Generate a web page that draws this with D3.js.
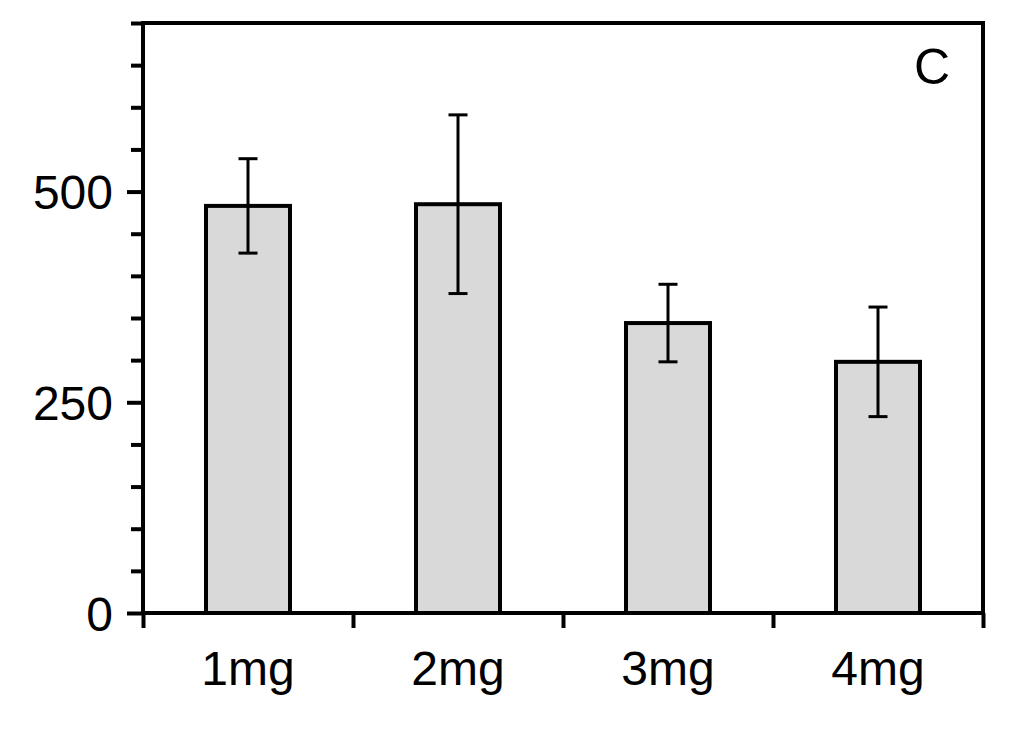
<!DOCTYPE html>
<html>
<head>
<meta charset="utf-8">
<script src="https://cdn.jsdelivr.net/npm/d3@7"></script>
<style>
  body { margin: 0; background: #fff; }
  svg { display: block; }
  .axis text { font-family: "Liberation Sans", Arial, sans-serif; font-size: 48px; fill: #000; }
</style>
</head>
<body>
<div id="chart"></div>
<script>
var categories = ['1mg', '2mg', '3mg', '4mg'];
var means = [483, 485, 344, 298];
var errUp = [56, 106, 46, 65];
var errDown = [56, 106, 46, 65];
var majorTicks = [0, 250, 500];
var minorTicks = [50, 100, 150, 200, 300, 350, 400, 450, 550, 600, 650, 700];

var width = 1023, height = 732;
var margin = {left: 143, right: 40, top: 23, bottom: 119};
var w = width - margin.left - margin.right;
var h = height - margin.top - margin.bottom;

var svg = d3.select("#chart").append("svg").attr("width", width).attr("height", height);
var g = svg.append("g").attr("transform", "translate(" + margin.left + "," + margin.top + ")");

var x = d3.scaleBand().domain(categories).range([0, w]).paddingInner(0).paddingOuter(0);
var y = d3.scaleLinear().domain([0, 700]).range([h, 0]);
var barW = x.bandwidth() * 0.4;

// bars
g.selectAll("rect.bar")
    .data(means)
    .enter().append("rect")
    .attr("class", "bar")
    .attr("x", function (d, i) { return x(categories[i]) + (x.bandwidth() - barW) / 2; })
    .attr("y", function (d) { return y(d); })
    .attr("width", barW)
    .attr("height", function (d) { return h - y(d); })
    .attr("fill", "#d9d9d9")
    .attr("stroke", "#000")
    .attr("stroke-width", 4);

// error bars
var eb = g.selectAll("g.err").data(means).enter().append("g").attr("class", "err")
    .attr("stroke", "#000").attr("stroke-width", 3);
eb.append("line")
    .attr("x1", function (d, i) { return x(categories[i]) + x.bandwidth() / 2; })
    .attr("x2", function (d, i) { return x(categories[i]) + x.bandwidth() / 2; })
    .attr("y1", function (d, i) { return y(d + errUp[i]); })
    .attr("y2", function (d, i) { return y(d - errDown[i]); });
eb.append("line")
    .attr("x1", function (d, i) { return x(categories[i]) + x.bandwidth() / 2 - 9.5; })
    .attr("x2", function (d, i) { return x(categories[i]) + x.bandwidth() / 2 + 9.5; })
    .attr("y1", function (d, i) { return y(d + errUp[i]); })
    .attr("y2", function (d, i) { return y(d + errUp[i]); });
eb.append("line")
    .attr("x1", function (d, i) { return x(categories[i]) + x.bandwidth() / 2 - 9.5; })
    .attr("x2", function (d, i) { return x(categories[i]) + x.bandwidth() / 2 + 9.5; })
    .attr("y1", function (d, i) { return y(d - errDown[i]); })
    .attr("y2", function (d, i) { return y(d - errDown[i]); });

// y axis minor ticks
g.append("g")
    .attr("class", "axis y minor")
    .call(d3.axisLeft(y).tickValues(minorTicks).tickSize(12).tickFormat(""))
    .call(function (s) { s.select(".domain").remove(); s.selectAll("line").attr("stroke-width", 4); });

// y axis major ticks
g.append("g")
    .attr("class", "axis y")
    .call(d3.axisLeft(y).tickValues(majorTicks).tickSize(16).tickPadding(14))
    .call(function (s) {
        s.select(".domain").remove();
        s.selectAll("line").attr("stroke-width", 4);
        s.selectAll("text").attr("dy", "0.36em");
    });

// x axis: ticks at category boundaries
var boundaries = categories.map(function (c) { return x(c); }).concat([w]);
g.append("g")
    .attr("class", "axis x")
    .attr("transform", "translate(0," + h + ")")
    .call(d3.axisBottom(d3.scaleLinear().domain([0, w]).range([0, w])).tickValues(boundaries).tickSize(15).tickFormat(""))
    .call(function (s) { s.select(".domain").remove(); s.selectAll("line").attr("stroke-width", 4); });

g.append("g")
    .attr("class", "axis x labels")
    .attr("transform", "translate(0," + h + ")")
    .call(d3.axisBottom(x).tickSize(0).tickPadding(38))
    .call(function (s) { s.select(".domain").remove(); });

// frame
g.append("rect")
    .attr("x", 0).attr("y", 0).attr("width", w).attr("height", h)
    .attr("fill", "none").attr("stroke", "#000").attr("stroke-width", 4);

// panel letter
g.append("text")
    .attr("x", w - 51).attr("y", 61)
    .attr("text-anchor", "middle")
    .attr("font-family", "Liberation Sans, Arial, sans-serif")
    .attr("font-size", 50)
    .text("C");
</script>
</body>
</html>
